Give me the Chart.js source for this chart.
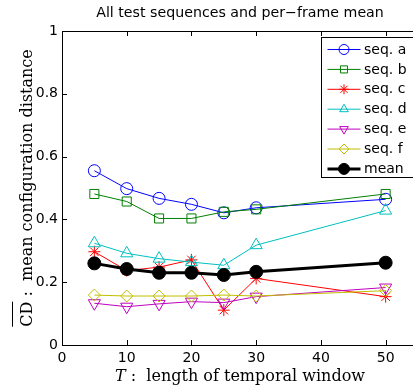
<!DOCTYPE html>
<html>
<head>
<meta charset="utf-8">
<script src="https://cdn.jsdelivr.net/npm/chart.js@4"></script>
<style>
  html, body { margin: 0; padding: 0; background: #fff; overflow: hidden; }
  #wrap { width: 413px; height: 390px; overflow: hidden; }
  #box { width: 426px; height: 390px; }
</style>
</head>
<body>
<div id="wrap"><div id="box"><canvas id="c"></canvas></div></div>
<script>
// window lengths T
const xValues = [5, 10, 15, 20, 25, 30, 50];
const seqA = [0.555, 0.498, 0.467, 0.448, 0.421, 0.437, 0.464];
const seqB = [0.481, 0.457, 0.403, 0.403, 0.424, 0.432, 0.481];
const seqC = [0.297, 0.237, 0.248, 0.271, 0.111, 0.212, 0.154];
const seqD = [0.324, 0.292, 0.275, 0.264, 0.254, 0.318, 0.428];
const seqE = [0.133, 0.122, 0.131, 0.138, 0.135, 0.154, 0.183];
const seqF = [0.159, 0.156, 0.156, 0.156, 0.159, 0.156, 0.173];
const meanVals = [0.260, 0.242, 0.230, 0.230, 0.223, 0.233, 0.262];

const xTicks = [0, 10, 20, 30, 40, 50];
const yTicks = [0, 0.2, 0.4, 0.6, 0.8, 1];

const pts = vals => vals.map((v, i) => ({ x: xValues[i], y: v }));

function series(label, vals, color, style, radius, rotation, order) {
  return {
    label: label,
    data: pts(vals),
    borderColor: color,
    backgroundColor: 'rgba(0,0,0,0)',
    borderWidth: 1,
    pointStyle: style,
    pointRadius: radius,
    pointRotation: rotation,
    pointBorderColor: color,
    pointBackgroundColor: 'rgba(0,0,0,0)',
    pointBorderWidth: 1,
    tension: 0,
    order: order
  };
}

const datasets = [
  series('seq. a', seqA, '#0000ff', 'circle', 6, 0, 7),
  series('seq. b', seqB, '#008000', 'rect', 6.4, 0, 6),
  series('seq. c', seqC, '#ff0000', 'star', 6, 0, 5),
  series('seq. d', seqD, '#00bfbf', 'triangle', 7, 0, 4),
  series('seq. e', seqE, '#bf00bf', 'triangle', 7, 180, 3),
  series('seq. f', seqF, '#bfbf00', 'rectRot', 6, 0, 2),
  {
    label: 'mean',
    data: pts(meanVals),
    borderColor: '#000',
    backgroundColor: '#000',
    borderWidth: 3,
    pointStyle: 'circle',
    pointRadius: 6.5,
    pointBorderColor: '#000',
    pointBackgroundColor: '#000',
    pointBorderWidth: 1,
    tension: 0,
    order: 1
  }
];

// box, inward ticks, title, axis labels, legend
const decor = {
  id: 'decor',
  afterDraw(chart) {
    const { ctx, chartArea: a, scales } = chart;
    const sx = scales.x, sy = scales.y;
    ctx.save();
    ctx.strokeStyle = '#000';
    ctx.lineWidth = 1;
    ctx.beginPath();
    ctx.rect(Math.round(a.left) + 0.5, Math.round(a.top) + 0.5, a.right - a.left, Math.round(a.bottom - a.top));
    ctx.stroke();

    ctx.beginPath();
    xTicks.forEach(t => {
      const px = Math.round(sx.getPixelForValue(t)) + 0.5;
      ctx.moveTo(px, a.bottom); ctx.lineTo(px, a.bottom - 5);
      ctx.moveTo(px, a.top); ctx.lineTo(px, a.top + 5);
    });
    yTicks.forEach(t => {
      const py = Math.round(sy.getPixelForValue(t)) + 0.5;
      ctx.moveTo(a.left, py); ctx.lineTo(a.left + 5, py);
    });
    ctx.stroke();

    // title
    ctx.fillStyle = '#000';
    ctx.font = '14.2px "DejaVu Sans"';
    ctx.textAlign = 'center';
    ctx.textBaseline = 'middle';
    ctx.fillText('All test sequences and per\u2212frame mean', (a.left + a.right) / 2, 13);

    // x label
    ctx.textBaseline = 'alphabetic';
    ctx.textAlign = 'left';
    const serif = '"DejaVu Serif"';
    ctx.font = 'italic 16px ' + serif;
    const tW = ctx.measureText('T').width;
    ctx.font = '16px ' + serif;
    const rest = ' :  length of temporal window';
    const rW = ctx.measureText(rest).width;
    let x0 = 240 - (tW + rW) / 2;
    ctx.font = 'italic 16px ' + serif;
    ctx.fillText('T', x0, 381);
    ctx.font = '16px ' + serif;
    ctx.fillText(rest, x0 + tW, 381);

    // y label
    ctx.save();
    ctx.translate(32, (a.top + a.bottom) / 2);
    ctx.rotate(-Math.PI / 2);
    ctx.font = '16px ' + serif;
    const cd = 'CD';
    const yRest = ' :  mean configuration distance';
    const cW = ctx.measureText(cd).width;
    const yW = ctx.measureText(yRest).width;
    const y0 = -(cW + yW) / 2;
    ctx.fillText(cd, y0, 0);
    ctx.fillText(yRest, y0 + cW, 0);
    ctx.beginPath();
    ctx.moveTo(y0, -19.5); ctx.lineTo(y0 + cW, -19.5);
    ctx.stroke();
    ctx.restore();

    // legend
    const lx = 321, ly = 37, lw = 110, lh = 140;
    ctx.fillStyle = '#fff';
    ctx.fillRect(lx, ly, lw, lh);
    ctx.strokeStyle = '#000';
    ctx.lineWidth = 1;
    ctx.strokeRect(lx + 0.5, ly + 0.5, lw, lh);
    chart.data.datasets.forEach((ds, i) => {
      const yy = 49.5 + i * 19.9;
      ctx.strokeStyle = ds.borderColor;
      ctx.lineWidth = ds.borderWidth;
      ctx.beginPath();
      ctx.moveTo(327.5, yy); ctx.lineTo(360.5, yy);
      ctx.stroke();
      ctx.fillStyle = ds.pointBackgroundColor;
      ctx.strokeStyle = ds.pointBorderColor;
      ctx.lineWidth = ds.pointBorderWidth;
      Chart.helpers.drawPoint(ctx, {
        pointStyle: ds.pointStyle,
        rotation: ds.pointRotation || 0,
        radius: ds.label === 'mean' ? 5.5 : 5,
        borderWidth: ds.pointBorderWidth
      }, 344, yy);
      ctx.fillStyle = '#000';
      ctx.font = '14px "DejaVu Sans"';
      ctx.textAlign = 'left';
      ctx.textBaseline = 'middle';
      ctx.fillText(ds.label, 364, yy + 0.5);
    });
    ctx.restore();
  }
};

new Chart(document.getElementById('c'), {
  type: 'line',
  data: { datasets: datasets },
  options: {
    responsive: true,
    maintainAspectRatio: false,
    animation: false,
    layout: { padding: { top: 31, left: 0, right: 6.5, bottom: 0 } },
    plugins: { legend: { display: false }, title: { display: false }, tooltip: { enabled: false } },
    scales: {
      x: {
        type: 'linear',
        min: 0,
        max: 55,
        afterFit: s => { s.height = 45; },
        afterBuildTicks: s => { s.ticks = xTicks.map(v => ({ value: v })); },
        grid: { display: false, drawTicks: false },
        border: { display: false },
        ticks: { color: '#000', padding: 5, maxRotation: 0, font: { family: 'DejaVu Sans', size: 14 } }
      },
      y: {
        min: 0,
        max: 1,
        afterFit: s => { s.width = 62; },
        afterBuildTicks: s => { s.ticks = yTicks.map(v => ({ value: v })); },
        grid: { display: false, drawTicks: false },
        border: { display: false },
        ticks: {
          color: '#000',
          padding: 4,
          font: { family: 'DejaVu Sans', size: 14 },
          callback: v => String(+v.toFixed(2))
        }
      }
    }
  },
  plugins: [decor]
});
</script>
</body>
</html>
